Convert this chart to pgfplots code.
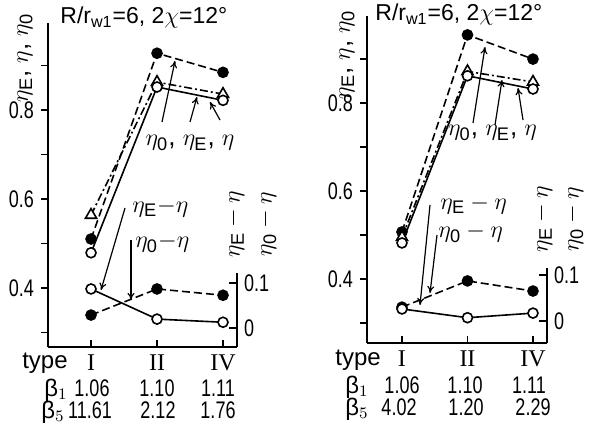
\documentclass[border=0pt]{standalone}
\usepackage{fontspec}
\setmainfont{Liberation Sans}
\newfontfamily\serif{Liberation Serif}
\newfontfamily\narrow[FakeStretch=0.75]{Liberation Sans}
\usepackage{pgfplots}
\pgfplotsset{compat=1.18}
\usetikzlibrary{arrows.meta}
\begin{document}
\begin{tikzpicture}[
  txt/.style={font=\fontsize{12}{14}\selectfont, inner sep=0pt, anchor=base},
  num/.style={font=\fontsize{12}{14}\selectfont\narrow, inner sep=0pt, anchor=base},
  big/.style={font=\fontsize{13}{15}\selectfont, inner sep=0pt},
  arr/.style={line width=0.6pt, -{To[length=3.5pt,width=3.5pt]}},
]
\useasboundingbox (0,0) rectangle (298.5pt,211.5pt);
\pgfplotsset{
  base/.style={
    scale only axis, clip=false,
    xtick={0,1,2}, xticklabels={{\serif I},{\serif II},{\serif IV}},
    axis x line*=bottom, axis y line*=left,
    axis line style={line width=0.8pt,-},
    xtick align=inside, ytick align=outside,
    major tick length=3.5pt, minor tick length=3.5pt,
    tick style={line width=0.8pt, black},
    ytick={0.4,0.6,0.8}, minor ytick={0.3,0.5,0.7,0.9},
    yticklabels={0.4,0.6,0.8},
    ticklabel style={font=\fontsize{12}{14}\selectfont\narrow},
    xticklabel style={yshift=-0.5pt},
    /pgf/number format/assume math mode=true,
  },
  diff/.style={
    scale only axis, clip=false, hide x axis,
    axis y line*=right, y axis line style={draw=none},
    ytick={0,0.1}, yticklabels={0,0.1}, ytick align=inside,
    major tick length=4pt, tick style={line width=0.8pt,black},
    ticklabel style={font=\fontsize{12}{14}\selectfont\narrow},
    /pgf/number format/assume math mode=true,
  },
  s0/.style={black, line width=0.8pt, dash pattern=on 4pt off 2pt, mark=*, mark size=2.5pt, mark options={solid, fill=black}},
  sE/.style={black, line width=0.8pt, dash pattern=on 4pt off 1.5pt on 1pt off 1.5pt, mark=triangle*, mark size=3.2pt, mark options={solid, fill=white}},
  sN/.style={black, line width=0.8pt, solid, mark=*, mark size=2.5pt, mark options={solid, fill=white}},
}
% ---------------- left panel ----------------
\begin{axis}[base, at={(24pt,38pt)}, anchor=south west, width=94.5pt, height=162pt,
  xmin=-0.652, xmax=2.212, ymin=0.267, ymax=0.996]
\addplot[s0] coordinates {(0,0.510) (1,0.928) (2,0.885)};
\addplot[sE] coordinates {(0,0.564) (1,0.863) (2,0.836)};
\addplot[sN] coordinates {(0,0.479) (1,0.852) (2,0.822)};
\end{axis}
\begin{axis}[diff, at={(24pt,38pt)}, anchor=south west, width=94.5pt, height=162pt,
  xmin=-0.652, xmax=2.212, ymin=-0.042, ymax=0.678]
\draw[line width=0.8pt] (rel axis cs:1,0) -- (axis cs:2.212,0.122);
\addplot[s0] coordinates {(0,0.029) (1,0.087) (2,0.073)};
\addplot[sN] coordinates {(0,0.087) (1,0.020) (2,0.013)};
\end{axis}
% ---------------- right panel ----------------
\begin{axis}[base, at={(183.5pt,40pt)}, anchor=south west, width=90pt, height=163.5pt,
  xmin=-0.534, xmax=2.214, ymin=0.2545, ymax=0.998]
\addplot[s0] coordinates {(0,0.507) (1,0.955) (2,0.900)};
\addplot[sE] coordinates {(0,0.495) (1,0.872) (2,0.848)};
\addplot[sN] coordinates {(0,0.482) (1,0.862) (2,0.832)};
\end{axis}
\begin{axis}[diff, at={(183.5pt,40pt)}, anchor=south west, width=90pt, height=163.5pt,
  xmin=-0.534, xmax=2.214, ymin=-0.048, ymax=0.663]
\draw[line width=0.8pt] (rel axis cs:1,0) -- (axis cs:2.214,0.115);
\addplot[s0] coordinates {(0,0.030) (1,0.087) (2,0.065)};
\addplot[sN] coordinates {(0,0.026) (1,0.007) (2,0.017)};
\end{axis}
% ---------------- texts, left ----------------
\node[anchor=west, inner sep=0pt, font=\fontsize{11.5}{13}\selectfont] at (30pt,202.5pt) {R/r$_{\mathrm{w1}}$=6, 2$\chi$=12°};
\node[rotate=90, big] at (12.5pt,182.5pt) {$\eta_{\mathrm{E}}$, $\eta$, $\eta_{\mathrm{0}}$};
\node[big] at (95pt,140pt) {$\eta_{\mathrm{0}}$, $\eta_{\mathrm{E}}$, $\eta$};
\node[big, anchor=west] at (66pt,107.5pt) {$\eta_{\mathrm{E}}{-}\eta$};
\node[big, anchor=west] at (67.5pt,90pt) {$\eta_{\mathrm{0}}{-}\eta$};
\node[rotate=90, big] at (117.5pt,99.5pt) {$\eta_{\mathrm{E}}-\eta$};
\node[rotate=90, big] at (133.5pt,99.5pt) {$\eta_{\mathrm{0}}-\eta$};
\draw[arr] (81pt,150.5pt) -- (87.5pt,181pt);
\draw[arr] (95pt,150.5pt) -- (98.5pt,163pt);
\draw[arr] (110pt,151.5pt) -- (105pt,160.5pt);
\draw[arr] (62.5pt,107.5pt) -- (50.5pt,66.5pt);
\draw[arr] (65.5pt,91.5pt) -- (65.5pt,61.5pt);
\node[txt] at (22.5pt,27.5pt) {type};
\node[txt] at (28pt,13.5pt) {β$_{1}$};
\node[num] at (46pt,13.5pt) {1.06};
\node[num] at (78.5pt,13.5pt) {1.10};
\node[num] at (109pt,13.5pt) {1.11};
\node[txt] at (26.5pt,2.5pt) {β$_{5}$};
\node[num] at (45pt,2.5pt) {11.61};
\node[num] at (79pt,2.5pt) {2.12};
\node[num] at (109pt,2.5pt) {1.76};
% ---------------- texts, right ----------------
\node[anchor=west, inner sep=0pt, font=\fontsize{11.5}{13}\selectfont] at (187.5pt,204pt) {R/r$_{\mathrm{w1}}$=6, 2$\chi$=12°};
\node[rotate=90, big] at (173.5pt,184pt) {$\eta_{\mathrm{E}}$, $\eta$, $\eta_{\mathrm{0}}$};
\node[big] at (246.25pt,145pt) {$\eta_{\mathrm{0}}$, $\eta_{\mathrm{E}}$, $\eta$};
\node[big, anchor=west] at (220pt,109pt) {$\eta_{\mathrm{E}}-\eta$};
\node[big, anchor=west] at (219pt,95pt) {$\eta_{\mathrm{0}}-\eta$};
\node[rotate=90, big] at (271.5pt,102pt) {$\eta_{\mathrm{E}}-\eta$};
\node[rotate=90, big] at (287pt,102pt) {$\eta_{\mathrm{0}}-\eta$};
\draw[arr] (236.5pt,150pt) -- (242.5pt,188pt);
\draw[arr] (247.5pt,149pt) -- (251pt,171.5pt);
\draw[arr] (261.5pt,151.5pt) -- (259pt,167.5pt);
\draw[arr] (215pt,109pt) -- (210pt,59pt);
\draw[arr] (218.5pt,94pt) -- (215pt,65pt);
\node[txt] at (179pt,29pt) {type};
\node[txt] at (178.5pt,15pt) {β$_{1}$};
\node[num] at (201pt,15pt) {1.06};
\node[num] at (232.5pt,15pt) {1.10};
\node[num] at (264.5pt,15pt) {1.11};
\node[txt] at (178.5pt,4pt) {β$_{5}$};
\node[num] at (199.5pt,4pt) {4.02};
\node[num] at (233pt,4pt) {1.20};
\node[num] at (266.5pt,4pt) {2.29};
\end{tikzpicture}
\end{document}
